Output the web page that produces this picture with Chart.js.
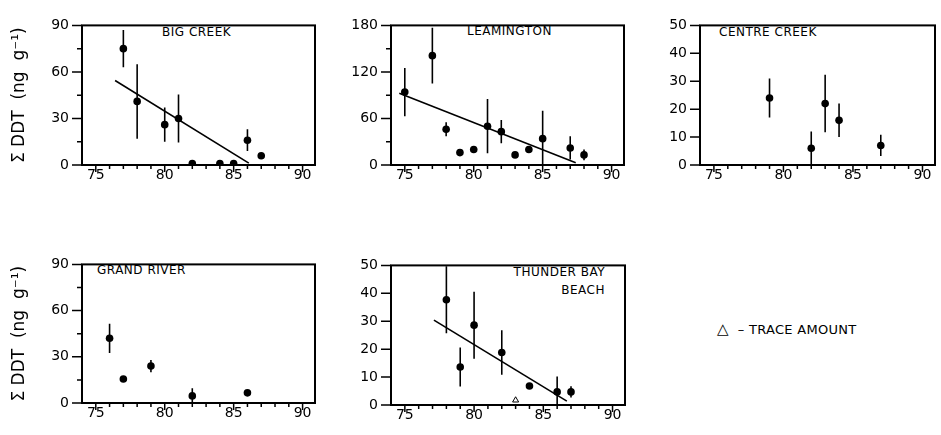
<!DOCTYPE html>
<html>
<head>
<meta charset="utf-8">
<script src="https://cdn.jsdelivr.net/npm/chart.js@4.4.1/dist/chart.umd.min.js"></script>
<style>
  body { margin: 0; background: #fff; width: 941px; height: 435px; position: relative; overflow: hidden; font-family: "DejaVu Sans", sans-serif; }
  canvas { position: absolute; }
  .lbl { position: absolute; font-size: 12px; line-height: 14px; letter-spacing: 0.5px; color: #000; white-space: nowrap; }
</style>
</head>
<body>
<div class="lbl" style="left:162px; top:25px;">BIG CREEK</div>
<div class="lbl" style="left:467px; top:24px;">LEAMINGTON</div>
<div class="lbl" style="left:719px; top:25px;">CENTRE CREEK</div>
<div class="lbl" style="left:97px; top:263px;">GRAND RIVER</div>
<div class="lbl" style="right:336px; top:263px; text-align:right; line-height:18px;">THUNDER BAY<br>BEACH</div>
<div class="lbl" style="left:717px; top:322px; font-size:13px; letter-spacing:0.3px;"><span style="font-size:15px;">△</span>&nbsp;&nbsp;–&nbsp;TRACE AMOUNT</div>

<script>
// --- DATA ---
const xTicks = [75, 80, 85, 90];

const bigCreekYears = [77, 78, 80, 81, 82, 84, 85, 86, 87];
const bigCreekDDT = [75, 41, 26, 30, 1, 1, 1, 16, 6];
const bigCreekErr = [12, 24, 11, 15.5, 0, 0, 0, 7, 1.5];
const bigCreekFitX = [76.4, 86.1];
const bigCreekFitY = [54.5, 1.2];

const leamingtonYears = [75, 77, 78, 79, 80, 81, 82, 83, 84, 85, 87, 88];
const leamingtonDDT = [94, 141, 46, 16, 20, 50, 43, 13, 20, 34, 22, 13];
const leamingtonErr = [31, 36, 9, 0, 0, 35, 15, 3, 4, 36, 15, 7];
const leamingtonFitX = [74.6, 87.4];
const leamingtonFitY = [92.4, 2.8];

const centreYears = [79, 82, 83, 84, 87];
const centreDDT = [24, 6, 22, 16, 7];
const centreErr = [7, 6, 10.3, 6, 3.8];

const grandYears = [76, 77, 79, 82, 86];
const grandDDT = [42, 15.6, 24, 4.6, 6.6];
const grandErr = [9.5, 0, 4, 5, 0];

const thunderYears = [78, 79, 80, 82, 84, 86, 87];
const thunderDDT = [37.7, 13.6, 28.6, 18.8, 6.8, 4.7, 4.7];
const thunderErr = [12, 7, 12, 8, 0, 5.5, 2];
const thunderTraceYears = [83];
const thunderTraceDDT = [1.7];
const thunderFitX = [77.1, 86.7];
const thunderFitY = [30.4, 1.4];

const yTitle = 'Σ DDT  (ng  g⁻¹)';

Chart.defaults.font.family = '"DejaVu Sans", sans-serif';
Chart.defaults.color = '#000';

// vertical error bars, drawn through the chart's scales
const errorBars = {
    id: 'errorBars',
    beforeDatasetsDraw(chart) {
        const { ctx, chartArea: a, scales: { x, y } } = chart;
        const ds = chart.data.datasets[0];
        ctx.save();
        ctx.beginPath();
        ctx.rect(a.left, a.top, a.right - a.left, a.bottom - a.top);
        ctx.clip();
        ctx.strokeStyle = '#000';
        ctx.lineWidth = 1.6;
        ctx.beginPath();
        ds.data.forEach((p, i) => {
            const e = ds.errors[i];
            if (!e) return;
            const px = x.getPixelForValue(p.x);
            ctx.moveTo(px, y.getPixelForValue(p.y - e));
            ctx.lineTo(px, y.getPixelForValue(p.y + e));
        });
        ctx.stroke();
        ctx.restore();
    }
};

// box round the plot plus the outward major / minor tick marks
const frame = {
    id: 'frame',
    afterDraw(chart) {
        const { ctx, chartArea: a, scales: { x, y } } = chart;
        const o = chart.options.frameTicks;
        ctx.save();
        ctx.strokeStyle = '#000';
        ctx.lineWidth = 2;
        ctx.strokeRect(a.left, a.top, a.right - a.left, a.bottom - a.top);
        ctx.lineWidth = 1.5;
        ctx.beginPath();
        for (let v = xTicks[0]; v <= xTicks[xTicks.length - 1]; v++) {
            const px = x.getPixelForValue(v);
            const len = v % 5 === 0 ? 7 : 4;
            ctx.moveTo(px, a.bottom);
            ctx.lineTo(px, a.bottom + len);
        }
        for (let v = 0; v <= y.max; v += o.minor) {
            const py = y.getPixelForValue(v);
            const len = v % o.major === 0 ? 10 : 5;
            ctx.moveTo(a.left, py);
            ctx.lineTo(a.left - len, py);
        }
        ctx.stroke();
        ctx.restore();
    }
};

function makePanel(p) {
    const canvas = document.createElement('canvas');
    canvas.width = p.w;
    canvas.height = p.h;
    canvas.style.left = p.left + 'px';
    canvas.style.top = p.top + 'px';
    document.body.appendChild(canvas);

    const datasets = [{
        type: 'scatter',
        data: p.years.map((yr, i) => ({ x: yr, y: p.vals[i] })),
        errors: p.err,
        pointRadius: 3.8,
        pointBackgroundColor: '#000',
        pointBorderWidth: 0
    }];
    if (p.fitX) {
        datasets.push({
            type: 'line',
            data: p.fitX.map((v, i) => ({ x: v, y: p.fitY[i] })),
            borderColor: '#000',
            borderWidth: 1.6,
            pointRadius: 0
        });
    }
    if (p.traceX) {
        datasets.push({
            type: 'scatter',
            data: p.traceX.map((v, i) => ({ x: v, y: p.traceY[i] })),
            pointStyle: 'triangle',
            pointRadius: 3.5,
            pointBackgroundColor: 'rgba(0,0,0,0)',
            pointBorderColor: '#000',
            pointBorderWidth: 1
        });
    }

    const yTicks = [];
    for (let v = 0; v <= p.yMax; v += p.yMajor) yTicks.push(v);

    new Chart(canvas, {
        data: { datasets },
        plugins: [errorBars, frame],
        options: {
            responsive: false,
            animation: false,
            events: [],
            frameTicks: { major: p.yMajor, minor: p.yMinor },
            layout: { padding: { top: 10, right: 5, left: 0, bottom: 0 } },
            plugins: { legend: { display: false }, tooltip: { enabled: false } },
            scales: {
                x: {
                    type: 'linear',
                    min: 74,
                    max: 90.9,
                    afterBuildTicks: s => { s.ticks = xTicks.map(v => ({ value: v })); },
                    afterFit: s => { s.height = 25; },
                    grid: { display: false, drawTicks: false },
                    border: { display: false },
                    ticks: { font: { size: 14 }, padding: 2, maxRotation: 0, autoSkip: false }
                },
                y: {
                    type: 'linear',
                    min: 0,
                    max: p.yMax,
                    afterBuildTicks: s => { s.ticks = yTicks.map(v => ({ value: v })); },
                    afterFit: s => { s.width = p.yWidth; },
                    grid: { display: false, drawTicks: false },
                    border: { display: false },
                    ticks: { font: { size: 14 }, padding: 13 },
                    title: {
                        display: !!p.showTitle,
                        text: yTitle,
                        font: { size: 17 },
                        padding: { top: 9, bottom: 0 }
                    }
                }
            }
        }
    });
}

makePanel({ left: 0, top: 4, w: 320, h: 186, yWidth: 82, showTitle: true,
    years: bigCreekYears, vals: bigCreekDDT, err: bigCreekErr,
    fitX: bigCreekFitX, fitY: bigCreekFitY, yMax: 90, yMajor: 30, yMinor: 15 });

makePanel({ left: 346, top: 4, w: 283, h: 186, yWidth: 45,
    years: leamingtonYears, vals: leamingtonDDT, err: leamingtonErr,
    fitX: leamingtonFitX, fitY: leamingtonFitY, yMax: 180, yMajor: 60, yMinor: 30 });

makePanel({ left: 655, top: 4, w: 285, h: 186, yWidth: 45,
    years: centreYears, vals: centreDDT, err: centreErr,
    yMax: 50, yMajor: 10, yMinor: 10 });

makePanel({ left: 0, top: 243, w: 320, h: 185, yWidth: 82, showTitle: true,
    years: grandYears, vals: grandDDT, err: grandErr,
    yMax: 90, yMajor: 30, yMinor: 15 });

makePanel({ left: 346, top: 244, w: 284, h: 186, yWidth: 45,
    years: thunderYears, vals: thunderDDT, err: thunderErr,
    fitX: thunderFitX, fitY: thunderFitY,
    traceX: thunderTraceYears, traceY: thunderTraceDDT,
    yMax: 50, yMajor: 10, yMinor: 10 });
</script>
</body>
</html>
